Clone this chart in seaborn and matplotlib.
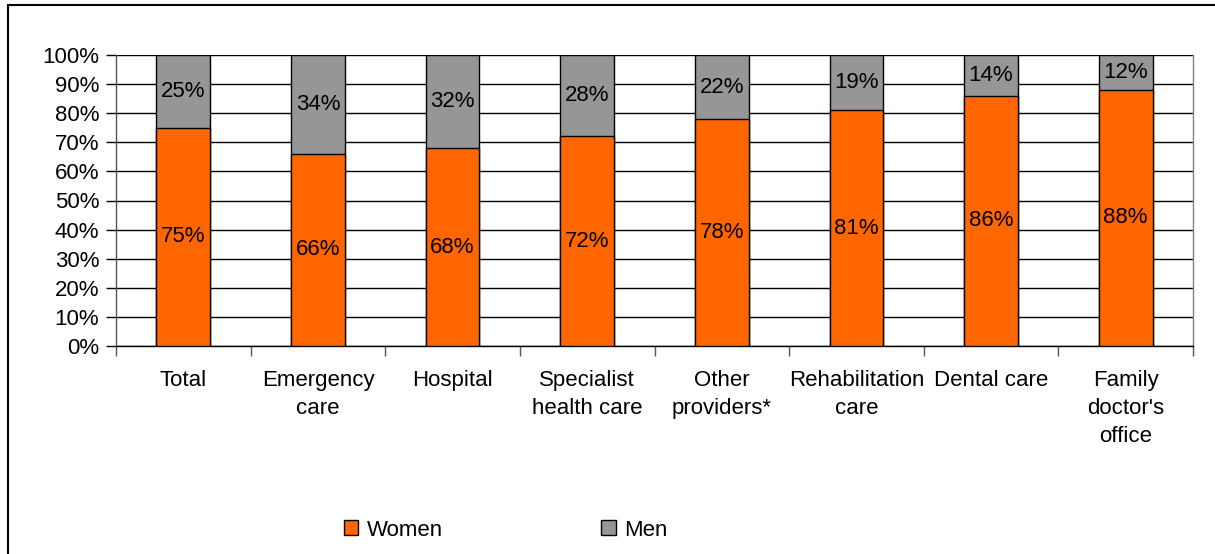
import matplotlib
matplotlib.use("Agg")
import matplotlib.pyplot as plt
import seaborn as sns
import pandas as pd
import numpy as np
from matplotlib.patches import Patch
from matplotlib.lines import Line2D

categories = ["Total", "Emergency\ncare", "Hospital", "Specialist\nhealth care",
              "Other\nproviders*", "Rehabilitation\ncare", "Dental care",
              "Family\ndoctor's\noffice"]
women = [75, 66, 68, 72, 78, 81, 86, 88]
men = [25, 34, 32, 28, 22, 19, 14, 12]
yticks = [0, 10, 20, 30, 40, 50, 60, 70, 80, 90, 100]

ORANGE = "#FF6600"
GRAY = "#969696"
FS = 16

sns.set_style("white")
plt.rcParams["font.family"] = ["Liberation Sans", "DejaVu Sans"]
plt.rcParams["text.color"] = "black"
plt.rcParams["xtick.color"] = "black"
plt.rcParams["ytick.color"] = "black"

df = pd.DataFrame({"category": categories, "women": women, "men": men})
df["total"] = df["women"] + df["men"]

fig = plt.figure(figsize=(12.15, 5.54), dpi=100)
ax = fig.add_axes([116 / 1215, 1 - 346 / 554, (1193 - 116) / 1215, (346 - 55) / 554])

sns.barplot(data=df, x="category", y="total", color=GRAY, saturation=1,
            width=0.40, edgecolor="black", linewidth=1.0, ax=ax, zorder=3)
sns.barplot(data=df, x="category", y="women", color=ORANGE, saturation=1,
            width=0.40, edgecolor="black", linewidth=1.0, ax=ax, zorder=3)

cont_total = ax.containers[0]
cont_women = ax.containers[1]
for i, (b, m) in enumerate(zip(cont_total, men)):
    x = b.get_x() + b.get_width() / 2
    ax.text(x, women[i] + m / 2, f"{m}%", ha="center", va="center", fontsize=FS,
            color="black", zorder=5)
for i, (b, w) in enumerate(zip(cont_women, women)):
    x = b.get_x() + b.get_width() / 2
    ax.text(x, w / 2, f"{w}%", ha="center", va="center", fontsize=FS,
            color="black", zorder=5)

ax.set_xlim(-0.5, len(categories) - 0.5)
ax.set_ylim(0, 100)
ax.set_yticks(yticks)
ax.set_yticklabels([f"{t}%" for t in yticks], fontsize=FS, color="black")
ax.yaxis.grid(True, color="black", linewidth=1.0, zorder=0)
ax.set_axisbelow(True)
ax.set_xlabel("")
ax.set_ylabel("")

ax.set_xticks(range(len(categories)))
ax.set_xticklabels(categories, fontsize=FS, linespacing=1.45, color="black")
ax.tick_params(axis="x", which="major", length=0, pad=17)
ax.set_xticks(np.arange(-0.5, len(categories), 1.0), minor=True)
ax.tick_params(axis="x", which="minor", length=7, width=1, color="#555555",
               direction="out", bottom=True)
ax.tick_params(axis="y", length=7, width=1, color="black", direction="out",
               left=True, pad=5)

ax.spines["top"].set_visible(False)
ax.spines["left"].set_color("#555555")
ax.spines["right"].set_color("#808080")
ax.spines["bottom"].set_color("black")
for s in ax.spines.values():
    s.set_linewidth(1.0)

# outer chart border (top and left visible)
fig.add_artist(Line2D([8 / 1215, 1.0], [1 - 5 / 554, 1 - 5 / 554], color="black",
                      linewidth=1.5, transform=fig.transFigure))
fig.add_artist(Line2D([8 / 1215, 8 / 1215], [0, 1 - 5 / 554], color="black",
                      linewidth=1.5, transform=fig.transFigure))

handles = [Patch(facecolor=ORANGE, edgecolor="black", label="Women"),
           Patch(facecolor=GRAY, edgecolor="black", label="Men")]
fig.legend(handles=handles, loc="center", bbox_to_anchor=(506 / 1215, 1 - 530 / 554),
           ncol=2, frameon=False, fontsize=FS, handlelength=0.65, handleheight=0.65,
           handletextpad=0.4, columnspacing=7.1)

fig.savefig("out.png", dpi=100)
